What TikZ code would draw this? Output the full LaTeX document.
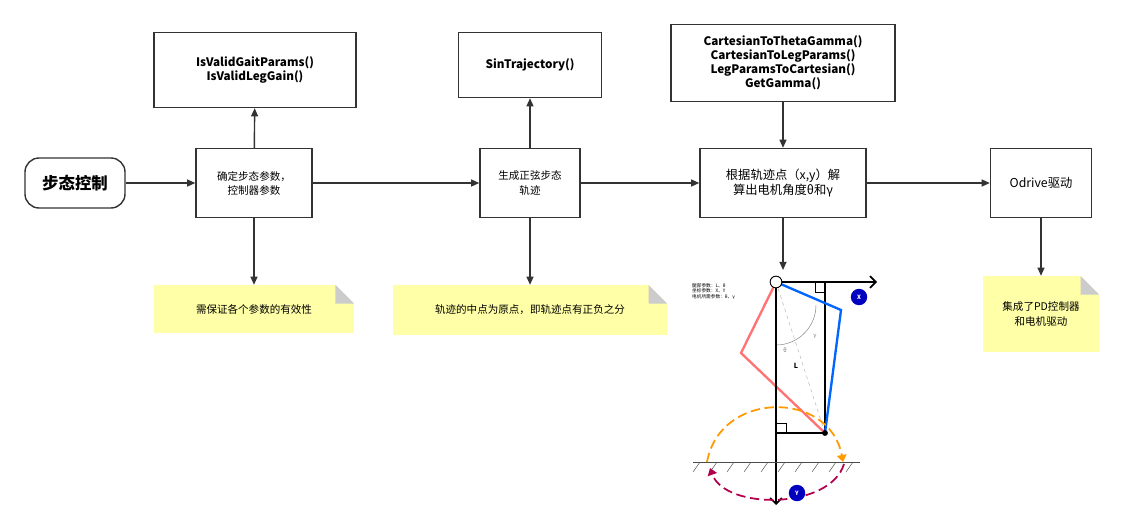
\documentclass[tikz,border=0pt]{standalone}
\usepackage{fontspec}
\setmainfont{Noto Sans CJK SC}
\usepackage{tikz}
\usetikzlibrary{positioning,arrows.meta}
\definecolor{notecol}{HTML}{FFFFA8}
\definecolor{linecol}{HTML}{333333}
\tikzset{
  proc/.style={draw=linecol,very thick,fill=white,align=center,inner sep=2pt,font=\fontsize{9}{12}\selectfont},
  func/.style={draw=linecol,very thick,align=center,font=\bfseries\fontsize{10}{12}\selectfont},
  note/.style={fill=notecol,align=center,font=\fontsize{9}{12}\selectfont},
  flow/.style={-{Triangle[length=7pt,width=6pt]},very thick,draw=linecol},
}
\newcommand{\foldcorner}[1]{\fill[white] ([xshift=-16pt]#1.north east) -- (#1.north east) -- ([yshift=-16pt]#1.north east) -- cycle;
  \fill[gray!40] ([xshift=-16pt]#1.north east) -- ([xshift=-16pt,yshift=-16pt]#1.north east) -- ([yshift=-16pt]#1.north east) -- cycle;}
\begin{document}
\begin{tikzpicture}[x=0.03cm,y=-0.03cm]
  \useasboundingbox (0,0) rectangle (1124,530);
  % main row
  \node[draw=linecol,very thick,rounded corners=12pt,minimum width=3cm,minimum height=1.5cm,align=center,font=\bfseries\fontsize{14}{16}\selectfont] (start) at (75,183) {步态控制};
  \node[proc,minimum width=3.48cm,minimum height=2.07cm] (param) at (254,183) {确定步态参数，\\控制器参数};
  \node[proc,minimum width=3cm,minimum height=2.07cm] (traj) at (530,183) {生成正弦步态\\轨迹};
  \node[proc,minimum width=4.98cm,minimum height=2.07cm,font=\fontsize{10.5}{13}\selectfont] (solve) at (783,183) {根据轨迹点（x,y）解\\算出电机角度θ和γ};
  \node[proc,minimum width=3.03cm,minimum height=2.07cm,font=\fontsize{10.5}{13}\selectfont] (odrive) at (1041,183) {Odrive驱动};
  % function boxes
  \node[func,minimum width=6.06cm,minimum height=2.25cm] (check) at (255,70) {IsValidGaitParams()\\IsValidLegGain()};
  \node[func,minimum width=4.29cm,minimum height=1.95cm] (sin) at (530,65) {SinTrajectory()};
  \node[func,minimum width=6.72cm,minimum height=2.31cm] (kin) at (783,63) {CartesianToThetaGamma()\\CartesianToLegParams()\\LegParamsToCartesian()\\GetGamma()};
  % notes
  \node[note,minimum width=6cm,minimum height=1.44cm] (n1) at (254,309) {需保证各个参数的有效性};
  \node[note,minimum width=8.22cm,minimum height=1.5cm] (n2) at (530,310) {轨迹的中点为原点，即轨迹点有正负之分};
  \node[note,minimum width=3.48cm,minimum height=2.28cm] (n3) at (1041,314) {集成了PD控制器\\和电机驱动};
  \foldcorner{n1}
  \foldcorner{n2}
  \foldcorner{n3}
  \coordinate (leg) at (783,270);
  % connectors
  \draw[flow] (start) -- (param);
  \draw[flow] (param) -- (traj);
  \draw[flow] (traj) -- (solve);
  \draw[flow] (solve) -- (odrive);
  \draw[flow] (param) -- (check);
  \draw[flow] (traj) -- (sin);
  \draw[flow] (kin) -- (solve);
  \draw[flow] (param) -- (n1);
  \draw[flow] (traj) -- (n2);
  \draw[flow] (solve) -- (leg);
  \draw[flow] (odrive) -- (n3);
  % leg sketch
  \coordinate (o) at (776,282);
  \coordinate (foot) at (825,433);
  \draw[gray!60,dashed,thin] (o) -- (foot);
  \draw[gray,thin] (776,345) arc[start angle=270,end angle=360,radius=1.2cm];
  \draw[black,line width=1.5pt] (o) rectangle (foot);
  \draw[thick] (815,282) |- (825,292) (776,423) -| (786,433);
  \draw[red!55,line width=2pt] (o) -- (741,353) -- (foot);
  \draw[blue!60!cyan,line width=2pt] (o) -- (841,310) -- (foot);
  \draw[line width=1.5pt,-{Straight Barb[length=5pt]}] (o) -- (877,282);
  \draw[line width=1.5pt,-{Straight Barb[length=5pt]}] (o) -- (776,505);
  \draw[thick,fill=white] (o) circle (5pt);
  \fill (foot) circle (2.5pt);
  \draw[thick,gray!60!black] (693,462) -- (860,462);
  \foreach \i in {0,...,9} \draw[gray!60!black] (700+\i*17,462) -- (693+\i*17,472);
  \draw[dashed,dash pattern=on 8pt off 4pt,line width=1.5pt,color=orange!80!yellow,-{Triangle[length=6pt]}] (707,462) .. controls (720,390) and (830,390) .. (843,462);
  \draw[dashed,dash pattern=on 8pt off 4pt,line width=1.5pt,color=violet!60!red,-{Triangle[length=6pt]}] (844,464) .. controls (830,510) and (725,510) .. (710,468);
  \fill[blue!75!black] (859,297) circle (7pt) node[white,font=\bfseries\tiny] {X};
  \fill[blue!75!black] (797,493) circle (7pt) node[white,font=\bfseries\tiny] {Y};
  \node[font=\fontsize{4}{5}\selectfont,anchor=north west,align=left] (legend) at (688,279) {腿部参数：L、θ\\坐标参数：X、Y\\电机所需参数：θ、γ};
  \node[font=\fontsize{5}{6}\selectfont,gray] (th) at (785,350) {θ};
  \node[font=\fontsize{5}{6}\selectfont,gray] (ga) at (815,336) {γ};
  \node[font=\bfseries\itshape\fontsize{6}{7}\selectfont] (ll) at (796,366) {L};
\end{tikzpicture}
\end{document}
